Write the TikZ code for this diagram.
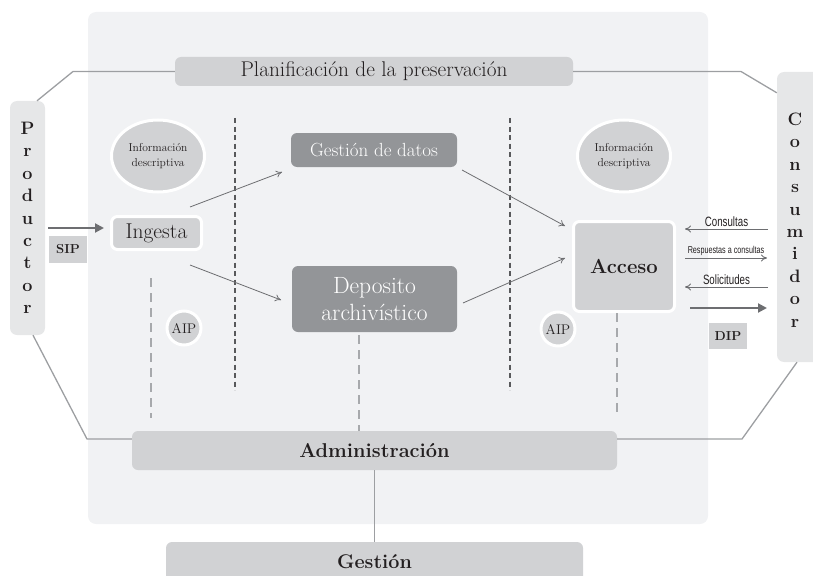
\documentclass[tikz,border=0pt]{standalone}
\usepackage{fontspec}
\newfontfamily\narrowsans[FakeStretch=0.72]{Liberation Sans}
\usetikzlibrary{arrows.meta,shapes.geometric}
\definecolor{panelbg}{HTML}{F1F2F4}
\definecolor{boxlight}{HTML}{D1D2D4}
\definecolor{boxside}{HTML}{E6E7E8}
\definecolor{boxdark}{HTML}{939598}
\definecolor{linegray}{HTML}{9D9FA2}
\definecolor{arrowgray}{HTML}{6D6E71}
\definecolor{txt}{HTML}{231F20}
\definecolor{dashdark}{HTML}{58595B}
\definecolor{dashlight}{HTML}{A7A9AC}
\tikzset{
  lightbox/.style={rectangle, rounded corners=6pt, fill=boxlight, inner sep=0pt, text=txt},
  whitebox/.style={rectangle, rounded corners=6pt, fill=boxlight, draw=white, line width=3pt, inner sep=0pt, text=txt},
  darkbox/.style={rectangle, rounded corners=6pt, fill=boxdark, inner sep=0pt, text=white, align=center},
  sidebox/.style={rectangle, rounded corners=7pt, fill=boxside, inner sep=0pt},
  tagbox/.style={rectangle, fill=boxlight, inner sep=0pt, text=txt, font=\bfseries\fontsize{13}{15}\selectfont},
  infoell/.style={ellipse, fill=boxlight, draw=white, line width=3pt, inner sep=0pt, minimum width=93pt, minimum height=72pt, align=center, text=txt, font=\fontsize{11.5}{15}\selectfont},
  aipcirc/.style={circle, fill=boxlight, draw=white, line width=3pt, inner sep=0pt, minimum size=34pt, text=txt, font=\fontsize{14}{16}\selectfont},
  link/.style={draw=linegray, line width=1.3pt},
  thinarrow/.style={draw=arrowgray, line width=0.8pt, -{To[length=6pt,width=7pt]}},
  sidearrow/.style={draw=arrowgray, line width=1pt, -{To[length=6pt,width=7pt]}},
  fatarrow/.style={draw=arrowgray, line width=2pt, -{Triangle[length=9pt,width=9pt]}},
  darkdash/.style={draw=dashdark, line width=1.6pt, dash pattern=on 5pt off 3.5pt},
  lightdash/.style={draw=dashlight, line width=1.4pt, dash pattern=on 9pt off 6pt},
  sidelabel/.style={text=txt, inner sep=1.5pt, font=\narrowsans\fontsize{13.5}{15}\selectfont},
  vletters/.style={align=center, text=txt, font=\bfseries\fontsize{18}{22.4}\selectfont}
}
\begin{document}
\begin{tikzpicture}[x=1pt,y=-1pt]
\useasboundingbox (0,0) rectangle (813,575);
% background panel
\node[rectangle, rounded corners=8pt, fill=panelbg, minimum width=620pt, minimum height=512pt, inner sep=0pt] (panel) at (398,268) {};

% side boxes
\node[sidebox, minimum width=35pt, minimum height=234pt] (prod) at (27.5,218) {};
\node[vletters] (prodT) at (27.5,218) {P\\r\\o\\d\\u\\c\\t\\o\\r};
\node[sidebox, minimum width=50pt, minimum height=290pt] (cons) at (802,217) {};
\node[vletters] (consT) at (795,220) {C\\o\\n\\s\\u\\m\\i\\d\\o\\r};

% main boxes
\node[lightbox, minimum width=398pt, minimum height=29pt, font=\fontsize{21.3}{23}\selectfont] (plan) at (374,71.5) {Planificación de la preservación};
\node[infoell] (ellL) at (158,156) {Información\\descriptiva};
\node[infoell] (ellR) at (624,156) {Información\\descriptiva};
\node[darkbox, minimum width=166pt, minimum height=34pt, font=\fontsize{19}{21}\selectfont] (gdat) at (374,150) {Gestión de datos};
\node[whitebox, minimum width=90pt, minimum height=33pt, font=\fontsize{21.5}{23}\selectfont] (ing) at (156.5,233) {Ingesta};
\node[tagbox, minimum width=38pt, minimum height=27pt] (sip) at (68,249.5) {SIP};
\node[darkbox, minimum width=165pt, minimum height=66pt, font=\fontsize{23.5}{27}\selectfont] (dep) at (374.5,299) {Deposito\\archivístico};
\node[whitebox, minimum width=101pt, minimum height=90pt, font=\bfseries\fontsize{20.3}{22}\selectfont] (acc) at (624,266.5) {Acceso};
\node[aipcirc] (aipL) at (184,328) {AIP};
\node[aipcirc] (aipR) at (558,329) {AIP};
\node[tagbox, minimum width=38pt, minimum height=26pt] (dip) at (728,336) {DIP};
\node[lightbox, minimum width=485pt, minimum height=39pt, font=\bfseries\fontsize{20}{22}\selectfont] (adm) at (374.5,450.5) {Administración};
\node[lightbox, minimum width=417pt, minimum height=40pt, font=\bfseries\fontsize{19.8}{22}\selectfont] (ges) at (374.5,562) {Gestión};

% outer links
\coordinate (pl1) at (73,71.5);
\coordinate (pl2) at (741,71.5);
\coordinate (ad1) at (87,439);
\coordinate (ad2) at (742,439);
\draw[link] (plan.west) -- (pl1) -- ([xshift=9.5pt]prod.north);
\draw[link] (plan.east) -- (pl2) -- ([yshift=-21pt]cons.north west);
\draw[link] ([xshift=5.5pt]prod.south) -- (ad1) -- ([yshift=11.5pt]adm.west);
\draw[link] ([yshift=11.5pt]adm.east) -- (ad2) -- ([xshift=-5pt]cons.south);
\draw[link] (adm.south) -- (ges.north);

% column dashes
\coordinate (c1t) at (235,118); \coordinate (c1b) at (235,390);
\coordinate (c2t) at (510,118); \coordinate (c2b) at (510,390);
\draw[darkdash] (c1t) -- (c1b);
\draw[darkdash] (c2t) -- (c2b);
\coordinate (l1t) at (151,278); \coordinate (l1b) at (151,418);
\coordinate (l2t) at (359,335); \coordinate (l2b) at (359,431);
\coordinate (l3t) at (617,313); \coordinate (l3b) at (617,416);
\draw[lightdash] (l1t) -- (l1b);
\draw[lightdash] (l2t) -- (l2b);
\draw[lightdash] (l3t) -- (l3b);

% internal arrows
\draw[thinarrow] ([shift={(33.5,-26)}]ing.center) -- ([shift={(-92,22)}]gdat.center);
\draw[thinarrow] ([shift={(33.5,32)}]ing.center) -- ([shift={(-93.5,1)}]dep.center);
\draw[thinarrow] ([shift={(88,20)}]gdat.center) -- ([shift={(-59,-40.5)}]acc.center);
\draw[thinarrow] ([shift={(88.5,4)}]dep.center) -- ([shift={(-59,-8.5)}]acc.center);
\draw[fatarrow] ([shift={(20.5,10)}]prod.center) -- ([shift={(-52.5,-5)}]ing.center);

% consumer side arrows
\draw[sidearrow] ([shift={(144,-37.5)}]acc.center) -- node[sidelabel, above] {Consultas} ([shift={(61,-37.5)}]acc.center);
\draw[sidearrow] ([shift={(61,-8.5)}]acc.center) -- node[sidelabel, above, font=\narrowsans\fontsize{10}{12}\selectfont] {Respuestas a consultas} ([shift={(143,-8.5)}]acc.center);
\draw[sidearrow] ([shift={(144,20.5)}]acc.center) -- node[sidelabel, above] {Solicitudes} ([shift={(61,20.5)}]acc.center);
\draw[fatarrow] ([shift={(66,41.5)}]acc.center) -- ([shift={(143,41.5)}]acc.center);
\end{tikzpicture}
\end{document}
